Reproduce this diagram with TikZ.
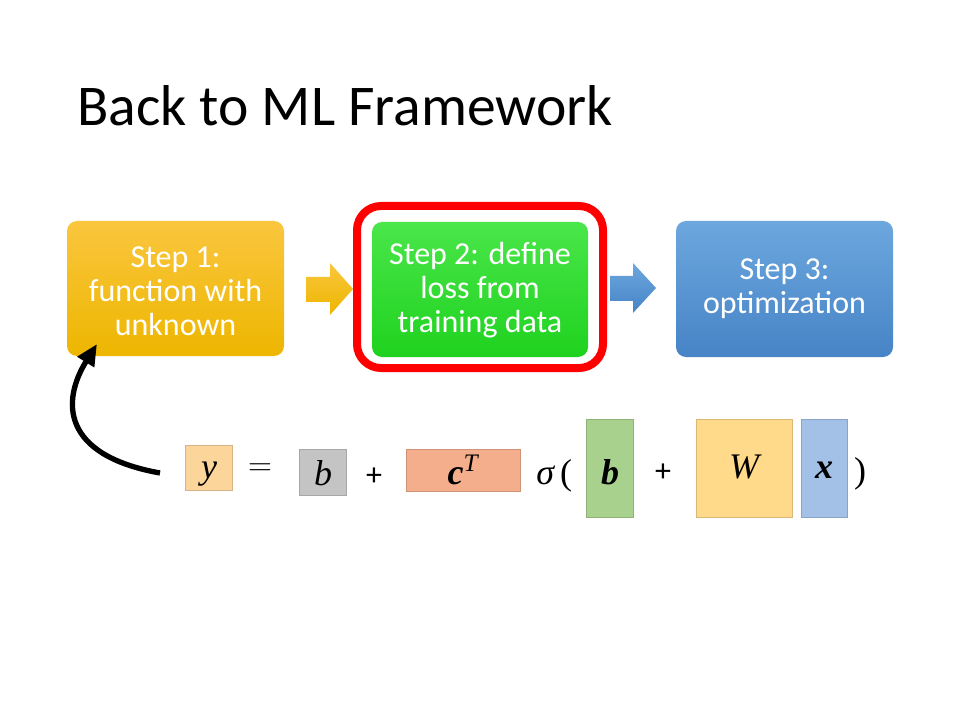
\documentclass[tikz,border=0pt]{standalone}
\usepackage{fontspec}
\setmainfont{Carlito}
\newfontfamily\mathserif{Liberation Serif}
\usetikzlibrary{arrows.meta}
\definecolor{goldtop}{HTML}{FAC63E}
\definecolor{goldbot}{HTML}{EDB600}
\definecolor{greentop}{HTML}{4AE64A}
\definecolor{greenbot}{HTML}{1FD21F}
\definecolor{bluetop}{HTML}{6CA7DE}
\definecolor{bluebot}{HTML}{4784C6}
\definecolor{yfill}{HTML}{FBD59A}
\definecolor{grayfill}{HTML}{C4C4C4}
\definecolor{cfill}{HTML}{F4AE8C}
\definecolor{bfill}{HTML}{A9D18E}
\definecolor{wfill}{HTML}{FFDA8A}
\definecolor{xfill}{HTML}{A3C1E7}
\begin{document}
\begin{tikzpicture}[x=0.75pt,y=-0.75pt,
  steptext/.style={text=white, align=center, font=\fontsize{24}{25.5}\selectfont},
  term/.style={inner sep=0pt, anchor=base, font=\mathserif\fontsize{27}{30}\selectfont},
  op/.style={inner sep=0pt, font=\fontsize{24}{26}\selectfont},
  tile/.style={inner sep=0pt, draw=#1!85!black, line width=0.6pt, fill=#1}]
\useasboundingbox[fill=white] (0,0) rectangle (960,720);

% title
\node[anchor=base west, inner sep=0pt, font=\fontsize{43.2}{50}\selectfont] (title) at (77,126) {Back to ML Framework};

% step boxes
\shade[rounded corners=7.5pt, top color=goldtop, bottom color=goldbot] (67,221) rectangle (284,356);
\node[steptext] (s1) at (175.5,291) {Step 1:\\function with\\unknown};

\draw[red, line width=6pt, rounded corners=18pt] (357,206) rectangle (603,368);
\shade[rounded corners=7.5pt, top color=greentop, bottom color=greenbot] (372,222) rectangle (588,357);
\node[steptext] (s2) at (480,290) {Step 2: define\\loss from\\training data};

\shade[rounded corners=7.5pt, top color=bluetop, bottom color=bluebot] (676,221) rectangle (893,357);
\node[steptext] (s3) at (784.5,289) {Step 3:\\optimization};

% block arrows between steps
\shade[top color=goldtop, bottom color=goldbot]
  (306,277) -- (330,277) -- (330,263) -- (353,289) -- (330,315) -- (330,302) -- (306,302) -- cycle;
\shade[top color=bluetop, bottom color=bluebot]
  (610,276) -- (633,276) -- (633,263) -- (656,288) -- (633,313) -- (633,301) -- (610,301) -- cycle;

% model equation
\node[tile=yfill, minimum width=47*0.75pt, minimum height=45*0.75pt] (ybox) at (208.5,467.5) {};
\node[term] (y) at (209,478) {\itshape y};
\node[inner sep=0pt, font=\fontsize{30}{30}\selectfont] (eq) at (260,470) {$=$};
\node[tile=grayfill, minimum width=47*0.75pt, minimum height=46*0.75pt] (bbox) at (322.5,472) {};
\node[term] (b) at (323,485) {\itshape b};
\node[op] (p1) at (374,477) {+};
\node[tile=cfill, minimum width=114*0.75pt, minimum height=42*0.75pt] (cbox) at (463,470) {};
\node[term] (c) at (463,484) {\bfseries\itshape c\textsuperscript{\mdseries\itshape T}};
\node[term, anchor=base west] (sig) at (536,484) {\itshape σ\,\upshape(};
\node[tile=bfill, minimum width=47*0.75pt, minimum height=98*0.75pt] (bvbox) at (609.5,468) {};
\node[term] (bv) at (610,484) {\bfseries\itshape b};
\node[op] (p2) at (663,473) {+};
\node[tile=wfill, minimum width=96*0.75pt, minimum height=98*0.75pt] (wbox) at (744,468) {};
\node[term] (w) at (744,478) {\itshape W};
\node[tile=xfill, minimum width=46*0.75pt, minimum height=98*0.75pt] (xbox) at (824,468) {};
\node[term] (x) at (824,478) {\bfseries\itshape x};
\node[term] (rp) at (860,482) {)};

% feedback arrow from the output to step 1
\coordinate (tail) at (160,473);
\coordinate (head) at (97,344);
\draw[line width=4pt, -{Triangle[length=16pt, width=14pt]}]
  (tail) .. controls (60,455) and (62,400) .. (head);
\end{tikzpicture}
\end{document}
